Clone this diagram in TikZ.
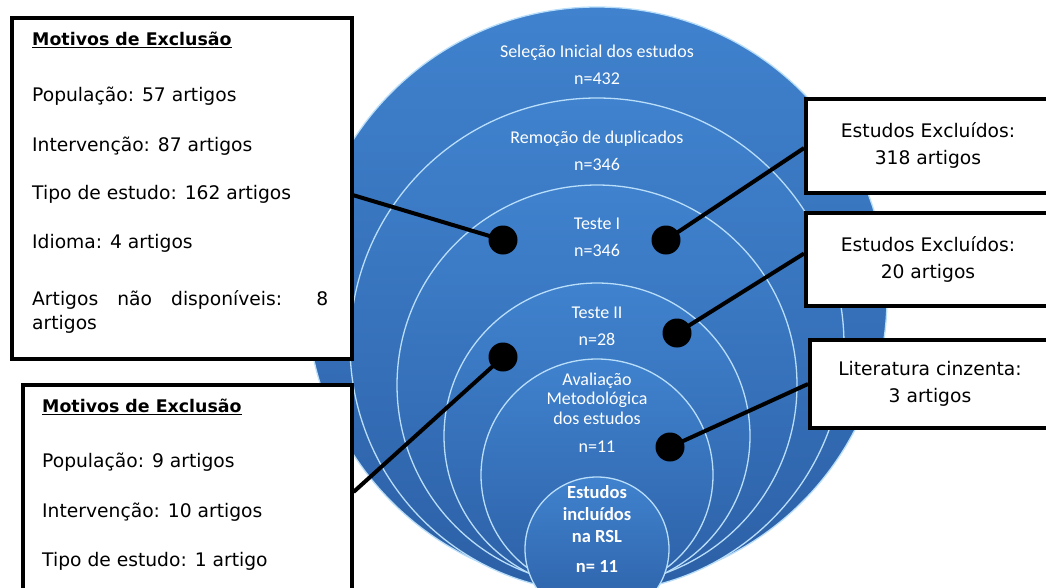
\documentclass[tikz,border=0pt]{standalone}
\usepackage{fontspec}
\setmainfont{DejaVu Sans}
\newfontfamily\ringfont{Carlito}
\definecolor{ringtop}{RGB}{64,130,206}
\definecolor{ringbot}{RGB}{44,96,166}
\definecolor{ringedge}{RGB}{185,222,250}

\begin{document}
\begin{tikzpicture}[x=1pt,y=-1pt,
    ring/.style={top color=ringtop, bottom color=ringbot, draw=ringedge, line width=1.3pt},
    lbl/.style={font=\ringfont\fontsize{18}{21}\selectfont, text=white, anchor=base, inner sep=0pt},
    hub/.style={circle, fill=black, minimum size=29pt, inner sep=0pt},
    exbox/.style={draw=black, line width=4pt, fill=white, inner sep=0pt},
    link/.style={line width=4pt}]
  \useasboundingbox (0,0) rectangle (1046,587);
  \clip (0,0) rectangle (1046,587);
  % nested rings
  \foreach \cy/\r in {297/290, 345/247, 385/200, 436/153, 475/116, 549/72} {
    \draw[ring] (597,\cy) circle (\r);
  }
  \foreach \y/\t [count=\i] in {57/Seleção Inicial dos estudos, 84/n=432, 143/Remoção de duplicados, 170/n=346, 229/Teste I, 256/n=346, 318/Teste II, 345/n=28, 385/Avaliação, 404/Metodológica, 424/dos estudos, 452/n=11}
    \node[lbl] (ring\i) at (597,\y) {\t};
  \foreach \y/\t [count=\i] in {498/Estudos, 520/incluídos, 542/na RSL, 572/n= 11}
    \node[lbl, font=\ringfont\bfseries\fontsize{18.5}{22}\selectfont] (core\i) at (597,\y) {\t};

  % dots
  \node[hub] (dA) at (503,240) {};
  \node[hub] (dC) at (666,240) {};
  \node[hub] (dD) at (677,333) {};
  \node[hub] (dB) at (503,357) {};
  \node[hub] (dE) at (670,447) {};

  % boxes
  \node[exbox, anchor=north west, minimum width=339.5pt, minimum height=341.5pt] (boxA) at (10,15.5) {};
  \node[exbox, anchor=north west, minimum width=329pt, minimum height=215pt] (boxB) at (20.5,382.5) {};
  \node[anchor=north west, inner sep=0pt, align=left, font=\fontsize{18.7}{24}\selectfont] (exA) at (32,32)
    {{\fontsize{17.4}{24}\selectfont\underline{\textbf{Motivos de Exclusão}}}\\[32pt]
     População: 57 artigos\\[26pt]
     Intervenção: 87 artigos\\[24pt]
     Tipo de estudo: 162 artigos\\[25pt]
     Idioma: 4 artigos\\[33pt]
     \makebox[296pt][s]{Artigos não disponíveis: 8}\\
     artigos};
  \node[anchor=north west, inner sep=0pt, align=left, font=\fontsize{18.7}{24}\selectfont] (exB) at (42,399)
    {{\fontsize{17.4}{24}\selectfont\underline{\textbf{Motivos de Exclusão}}}\\[31pt]
     População: 9 artigos\\[26pt]
     Intervenção: 10 artigos\\[25pt]
     Tipo de estudo: 1 artigo};
  \node[exbox, minimum width=244pt, minimum height=94pt, align=center, font=\fontsize{18.7}{27}\selectfont] (boxC) at (928,145.5) {Estudos Excluídos:\\318 artigos};
  \node[exbox, minimum width=244pt, minimum height=93pt, align=center, font=\fontsize{18.7}{27}\selectfont] (boxD) at (928,259.5) {Estudos Excluídos:\\20 artigos};
  \node[exbox, minimum width=240pt, minimum height=87.5pt, align=center, font=\fontsize{18.7}{27}\selectfont] (boxE) at (930,384) {Literatura cinzenta:\\3 artigos};

  % connectors
  \draw[link] (dA.center) -- ([yshift=-7pt]boxA.east);
  \draw[link] (dC.center) -- ([yshift=-2.5pt]boxC.west);
  \draw[link] (dD.center) -- ([yshift=6pt]boxD.west);
  \draw[link] (dB.center) -- (boxB.east);
  \draw[link] (dE.center) -- (boxE.west);
\end{tikzpicture}
\end{document}
